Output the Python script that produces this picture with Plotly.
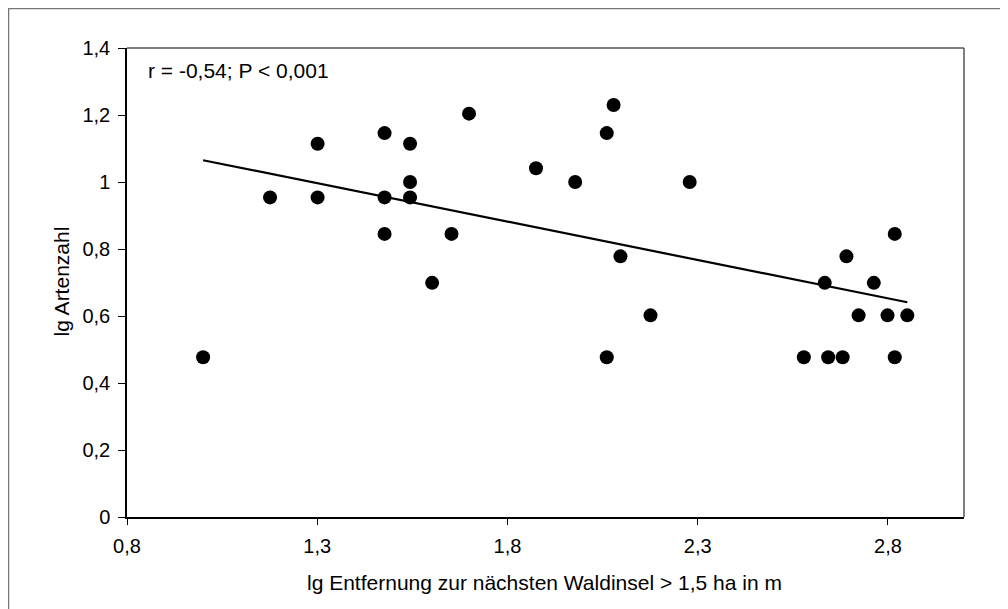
import plotly.graph_objects as go

# lg distance to nearest forest island (>1.5 ha) in m
lg_distance = [1.000, 1.176, 1.301, 1.301, 1.477, 1.477, 1.477, 1.544, 1.544, 1.544,
               1.602, 1.653, 1.699, 1.875, 1.978, 2.061, 2.079, 2.061, 2.097, 2.176,
               2.279, 2.579, 2.634, 2.643, 2.681, 2.691, 2.723, 2.763, 2.799, 2.818,
               2.818, 2.851]
# lg species count
lg_species = [0.477, 0.954, 1.114, 0.954, 1.146, 0.954, 0.845, 1.114, 1.000, 0.954,
              0.699, 0.845, 1.204, 1.041, 1.000, 1.146, 1.230, 0.477, 0.778, 0.602,
              1.000, 0.477, 0.699, 0.477, 0.477, 0.778, 0.602, 0.699, 0.602, 0.845,
              0.477, 0.602]

# regression line end points
trend_x = [1.000, 2.851]
trend_y = [1.065, 0.641]

x_ticks = [0.8, 1.3, 1.8, 2.3, 2.8]
x_tick_labels = ["0,8", "1,3", "1,8", "2,3", "2,8"]
y_ticks = [0, 0.2, 0.4, 0.6, 0.8, 1.0, 1.2, 1.4]
y_tick_labels = ["0", "0,2", "0,4", "0,6", "0,8", "1", "1,2", "1,4"]

FONT = "Liberation Sans, Arial, sans-serif"
FS = 20
FS_T = 21

# plot area (screen px): x 127.3..964.3, y 48.3..517.3 ; body offset 8px
PX0, PX1, PY0, PY1 = 127.3, 964.3, 48.3, 517.3
W, H = PX1 - PX0, PY1 - PY0


def px(x):
    return (x - PX0) / W


def py(y):
    return (PY1 - y) / H


fig = go.Figure()
fig.add_trace(go.Scatter(x=trend_x, y=trend_y, mode="lines",
                         line=dict(color="black", width=2.2), showlegend=False,
                         hoverinfo="skip"))
fig.add_trace(go.Scatter(x=lg_distance, y=lg_species, mode="markers",
                         marker=dict(color="black", size=14, line=dict(width=0)),
                         showlegend=False))

fig.update_layout(
    width=1008, height=609,
    margin=dict(l=round(PX0 - 8), r=round(1008 - (PX1 - 8)), t=round(PY0 - 8),
                b=round(609 - (PY1 - 8))),
    paper_bgcolor="white", plot_bgcolor="white",
    font=dict(family=FONT, size=FS, color="black"),
    xaxis=dict(range=[0.8, 3.0], tickvals=x_ticks, ticktext=x_tick_labels,
               showgrid=False, zeroline=False, showline=True, linecolor="black",
               linewidth=1.5, ticks="outside", ticklen=6, tickcolor="black",
               tickwidth=1, ticklabelstandoff=4),
    yaxis=dict(range=[0, 1.4], tickvals=y_ticks, ticktext=y_tick_labels,
               showgrid=False, zeroline=False, showline=True, linecolor="black",
               linewidth=1.5, ticks="outside", ticklen=7, tickcolor="black",
               tickwidth=1, ticklabelstandoff=4),
    shapes=[
        dict(type="line", xref="paper", yref="paper", x0=0, x1=1, y0=1, y1=1,
             line=dict(color="#555555", width=1.5)),
        dict(type="line", xref="paper", yref="paper", x0=1, x1=1, y0=0, y1=1,
             line=dict(color="#555555", width=1.5)),
        dict(type="rect", xref="paper", yref="paper",
             x0=px(8.8), x1=px(1030), y0=py(640), y1=py(8.8),
             line=dict(color="#777777", width=1.5)),
    ],
    annotations=[
        dict(text="r = -0,54; P < 0,001", xref="paper", yref="paper",
             x=px(146.5), y=py(71), xanchor="left",
             yanchor="middle", showarrow=False, font=dict(size=FS_T)),
        dict(text="lg Entfernung zur nächsten Waldinsel > 1,5 ha in m", xref="paper",
             yref="paper", x=px(545), y=py(583),
             xanchor="center", yanchor="middle", showarrow=False, font=dict(size=FS_T)),
        dict(text="lg Artenzahl", xref="paper", yref="paper", textangle=-90,
             x=px(62), y=py(282), xanchor="center",
             yanchor="middle", showarrow=False, font=dict(size=FS_T)),
    ],
)

fig.write_html("out.html")
